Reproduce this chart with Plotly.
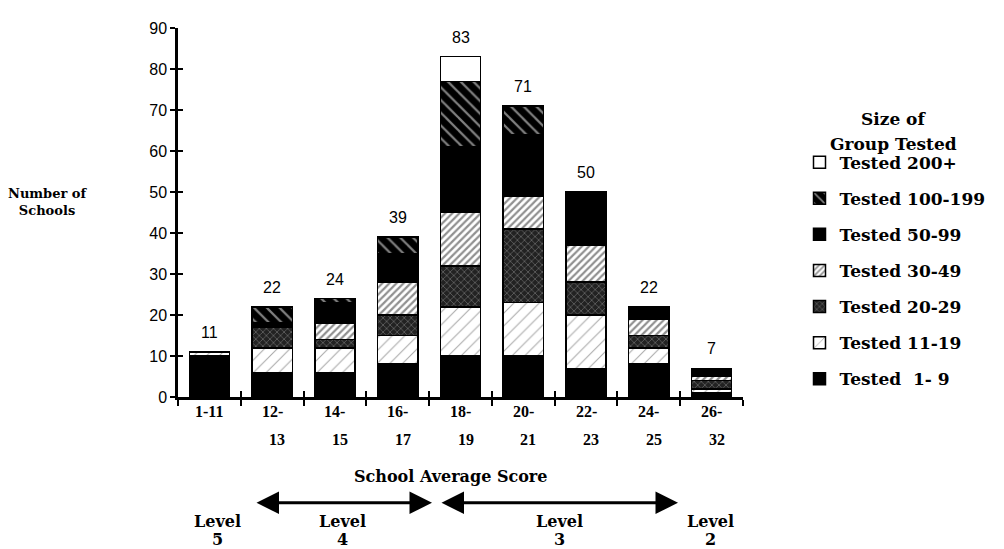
import plotly.graph_objects as go

categories = ["1-11", "12-13", "14-15", "16-17", "18-19",
              "20-21", "22-23", "24-25", "26-32"]
label_top = ["1-11", "12-", "14-", "16-", "18-", "20-", "22-", "24-", "26-"]
label_bottom = ["", "13", "15", "17", "19", "21", "23", "25", "32"]
totals = [11, 22, 24, 39, 83, 71, 50, 22, 7]

tested_1_9     = [10, 6, 6, 8, 10, 10, 7, 8, 1]
tested_11_19   = [1, 6, 6, 7, 12, 13, 13, 4, 1]
tested_20_29   = [0, 5, 2, 5, 10, 18, 8, 3, 2]
tested_30_49   = [0, 0, 4, 8, 13, 8, 9, 4, 1]
tested_50_99   = [0, 1, 5, 7, 16, 15, 13, 3, 2]
tested_100_199 = [0, 4, 1, 4, 16, 7, 0, 0, 0]
tested_200p    = [0, 0, 0, 0, 6, 0, 0, 0, 0]

series = [
    ("Tested  1- 9", tested_1_9, dict(color="black")),
    ("Tested 11-19", tested_11_19, dict(color="white",
        pattern=dict(shape="/", bgcolor="white", fgcolor="#555", size=9, solidity=0.12))),
    ("Tested 20-29", tested_20_29, dict(color="#333",
        pattern=dict(shape="x", bgcolor="#222", fgcolor="#bbb", size=5, solidity=0.25))),
    ("Tested 30-49", tested_30_49, dict(color="white",
        pattern=dict(shape="/", bgcolor="white", fgcolor="#222", size=5, solidity=0.45))),
    ("Tested 50-99", tested_50_99, dict(color="black")),
    ("Tested 100-199", tested_100_199, dict(color="black",
        pattern=dict(shape="\\", bgcolor="black", fgcolor="white", size=9, solidity=0.25))),
    ("Tested 200+", tested_200p, dict(color="white")),
]

SERIF = "DejaVu Serif"
SANS = "Liberation Sans"

fig = go.Figure()
for i, (name, vals, mk) in enumerate(series):
    marker = dict(mk)
    marker["line"] = dict(color="black", width=1.5)
    fig.add_trace(go.Bar(
        x=categories, y=vals, name=name, marker=marker, width=0.64,
        legendgroup=f"g{i}", legendrank=100 - i, hoverinfo="skip"))

# invisible trace to carry the overlaid axes (inside ticks -> crossing ticks)
fig.add_trace(go.Scatter(x=categories, y=[0] * len(categories), xaxis="x2", yaxis="y2",
                         mode="markers", marker=dict(opacity=0), showlegend=False,
                         hoverinfo="skip"))

# bar total labels
for c, t in zip(categories, totals):
    fig.add_annotation(x=c, y=t, text=str(t), showarrow=False, yanchor="bottom",
                       yshift=9, font=dict(family=SANS, size=16, color="black"))

# two-line category labels
tickfont = dict(family="Liberation Serif", size=16, color="black", weight="bold")
for c, a, b in zip(categories, label_top, label_bottom):
    fig.add_annotation(x=c, y=0, text=a, showarrow=False, yanchor="middle",
                       yshift=-14, font=tickfont)
    if b:
        fig.add_annotation(x=c, y=0, text=b, showarrow=False, yanchor="middle",
                           yshift=-42, xshift=5, font=tickfont)

yt = [0, 10, 20, 30, 40, 50, 60, 70, 80, 90]
fig.update_layout(
    barmode="stack",
    width=996, height=541,
    margin=dict(l=170, r=261, t=17, b=152),
    paper_bgcolor="white", plot_bgcolor="white",
    showlegend=True,
    legend=dict(x=1.10, y=0.684, xanchor="left", yanchor="top",
                traceorder="grouped", tracegroupgap=11,
                font=dict(family=SERIF, size=17, color="black", weight="bold"),
                itemwidth=30, bgcolor="rgba(0,0,0,0)"),
    xaxis=dict(type="category", categoryarray=categories, range=[-0.5, 8.5],
               tickson="boundaries", ticks="outside", ticklen=6,
               tickwidth=2, tickcolor="black", showline=True, linecolor="black",
               linewidth=2.5, showgrid=False, showticklabels=False),
    xaxis2=dict(type="category", categoryarray=categories, range=[-0.5, 8.5],
                overlaying="x", tickson="boundaries", ticks="inside", ticklen=6,
                tickwidth=2, tickcolor="black", showticklabels=False, showgrid=False,
                side="bottom"),
    yaxis=dict(range=[0, 90], tickvals=yt,
               ticks="outside", ticklen=5, tickwidth=2, tickcolor="black",
               showline=True, linecolor="black", linewidth=2.5, showgrid=False,
               zeroline=False, tickfont=dict(family=SANS, size=16, color="black")),
    yaxis2=dict(range=[0, 90], overlaying="y", tickvals=yt,
                ticks="inside", ticklen=5, tickwidth=2, tickcolor="black",
                showticklabels=False, showgrid=False, zeroline=False, side="left"),
)

def px(xs):
    return (xs - 178) / 565.0

def py(ys):
    return (396.5 - ys) / 371.5

bold = dict(family=SERIF, size=16, color="black", weight="bold")
fig.add_annotation(xref="paper", yref="paper", x=px(47), y=py(200), text="Number of<br>Schools",
                   showarrow=False, xanchor="center", yanchor="middle",
                   font=dict(family=SERIF, size=13, color="black", weight="bold"), align="center")
fig.add_annotation(xref="paper", yref="paper", x=px(450), y=py(477), text="School Average Score",
                   showarrow=False, xanchor="center", yanchor="middle", font=bold)
fig.add_annotation(xref="paper", yref="paper", x=px(893), y=py(117), text="Size of",
                   showarrow=False, xanchor="center", yanchor="middle",
                   font=dict(family=SERIF, size=17, color="black", weight="bold"))
fig.add_annotation(xref="paper", yref="paper", x=px(893), y=py(142), text="Group Tested",
                   showarrow=False, xanchor="center", yanchor="middle",
                   font=dict(family=SERIF, size=17, color="black", weight="bold"))

# level arrows (double-headed)
for x0, x1 in [(255, 432), (440, 678)]:
    fig.add_annotation(xref="x domain", yref="y domain", x=px(x1), y=py(503),
                       ax=px(x0), ay=py(503),
                       axref="x domain", ayref="y domain", showarrow=True, text="",
                       arrowhead=2, startarrowhead=2, arrowside="end+start",
                       arrowsize=1.5, startarrowsize=1.5, arrowwidth=3, arrowcolor="black")

for x, lab in [(217, "5"), (342, "4"), (559, "3"), (710, "2")]:
    fig.add_annotation(xref="paper", yref="paper", x=px(x), y=py(522), text="Level",
                       showarrow=False, xanchor="center", yanchor="middle", font=bold)
    fig.add_annotation(xref="paper", yref="paper", x=px(x), y=py(540), text=lab,
                       showarrow=False, xanchor="center", yanchor="middle", font=bold)

fig.write_html("out.html")
